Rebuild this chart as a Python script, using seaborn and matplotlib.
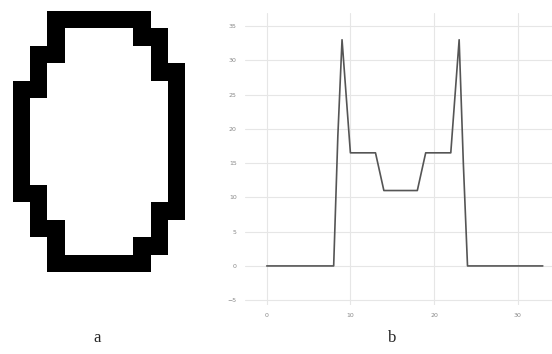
import numpy as np
import pandas as pd
import seaborn as sns
import matplotlib
matplotlib.use("Agg")
import matplotlib.pyplot as plt

# ---- data ----
# binary shape (panel a): black cells per row (15 rows x 10 cols)
shape_rows = [
    [2, 3, 4, 5, 6, 7],
    [2, 7, 8],
    [1, 2, 8],
    [1, 8, 9],
    [0, 1, 9],
    [0, 9],
    [0, 9],
    [0, 9],
    [0, 9],
    [0, 9],
    [0, 1, 9],
    [1, 8, 9],
    [1, 2, 8],
    [2, 7, 8],
    [2, 3, 4, 5, 6, 7],
]
n_cols = 10

# profile (panel b)
prof_x = [0, 1, 2, 3, 4, 5, 6, 7, 8, 8.5, 9, 10, 11, 12, 13, 14, 15, 16, 17, 18,
          19, 20, 21, 22, 23, 23.5, 24, 25, 26, 27, 28, 29, 30, 31, 32, 33]
prof_y = [0, 0, 0, 0, 0, 0, 0, 0, 0, 19, 33, 16.5, 16.5, 16.5, 16.5, 11, 11, 11, 11, 11,
          16.5, 16.5, 16.5, 16.5, 33, 15, 0, 0, 0, 0, 0, 0, 0, 0, 0, 0]
x_ticks = [0, 10, 20, 30]
y_ticks = [-5, 0, 5, 10, 15, 20, 25, 30, 35]
panel_labels = ["a", "b"]

sns.set_theme(style="whitegrid")

fig = plt.figure(figsize=(5.52, 3.54), dpi=100)

# panel a
grid = np.zeros((len(shape_rows), n_cols))
for r, cols in enumerate(shape_rows):
    for c in cols:
        grid[r, c] = 1
ax1 = fig.add_axes([13 / 552, 1 - 272 / 354, 172 / 552, 261 / 354])
sns.heatmap(grid, ax=ax1, cmap=["white", "black"], cbar=False,
            xticklabels=False, yticklabels=False, square=False)
ax1.set_axis_off()

# panel b
ax2 = fig.add_axes([245 / 552, 1 - 305 / 354, 307 / 552, 292 / 354])
df = pd.DataFrame({"x": prof_x, "y": prof_y})
sns.lineplot(data=df, x="x", y="y", ax=ax2, color="#555555", linewidth=1.2,
             sort=False)
ax2.set_xlim(-2.6, 34.1)
ax2.set_ylim(-5.7, 36.9)
ax2.set_xticks(x_ticks)
ax2.set_yticks(y_ticks)
ax2.set_xlabel("")
ax2.set_ylabel("")
ax2.grid(True, color="#e6e6e6", linewidth=0.8)
for s in ax2.spines.values():
    s.set_visible(False)
ax2.tick_params(axis="both", labelsize=4.5, colors="#888888", length=0, pad=6)

fig.text(97 / 552, 1 - 338 / 354, panel_labels[0], ha="center", va="center",
         fontsize=12, family="Liberation Serif")
fig.text(392 / 552, 1 - 338 / 354, panel_labels[1], ha="center", va="center",
         fontsize=12, family="Liberation Serif")

fig.savefig("out.png", dpi=100)
